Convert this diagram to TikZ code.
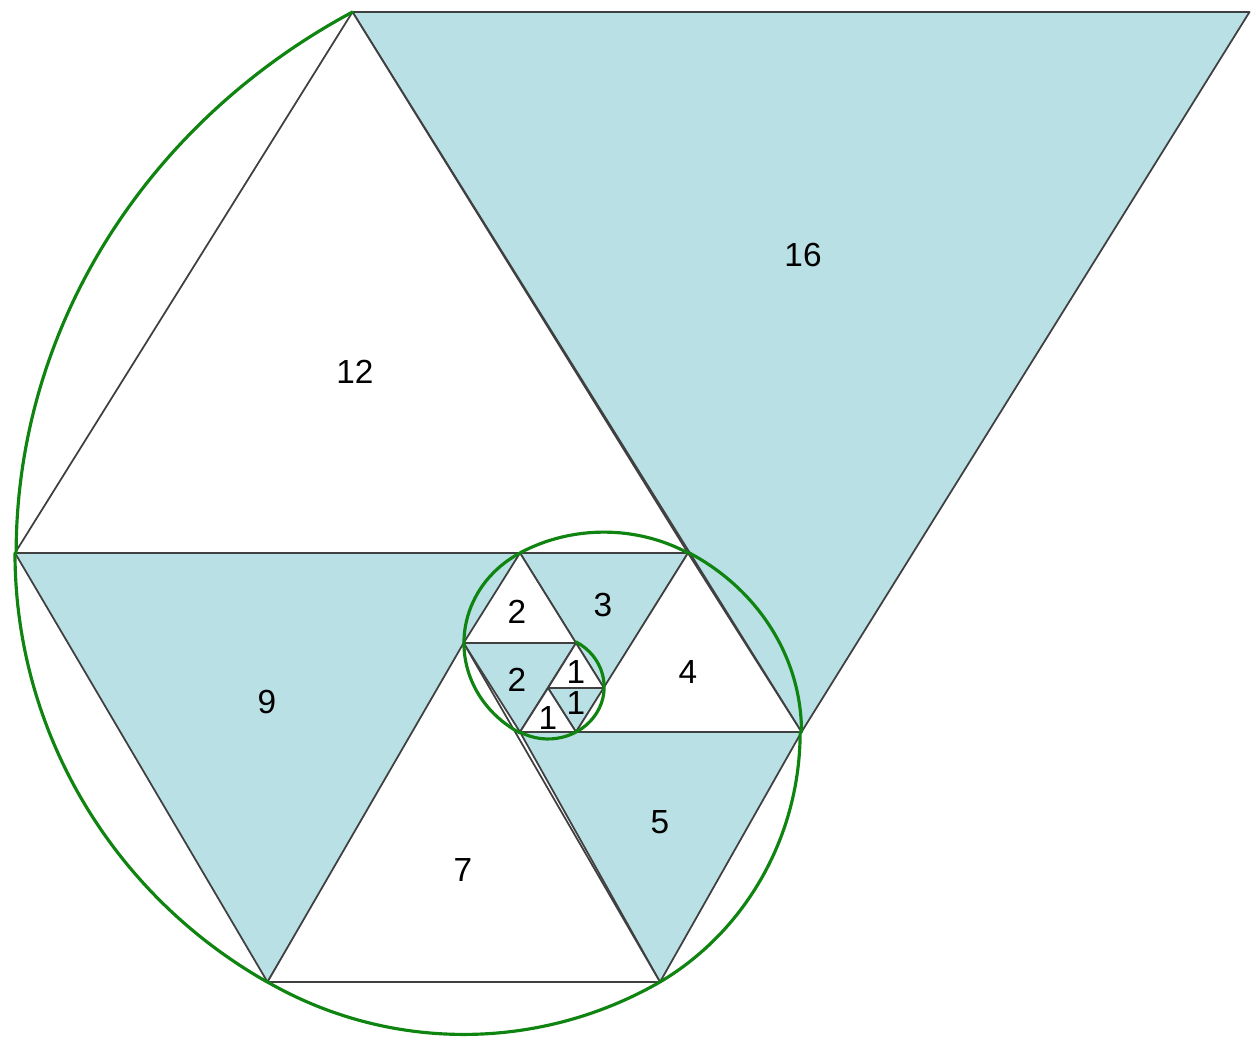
\documentclass[tikz,border=0pt]{standalone}
\usepackage{fontspec}
\setmainfont{Liberation Sans}
\usepackage{xcolor}
\usetikzlibrary{positioning}
\definecolor{padblue}{RGB}{185,224,228}
\definecolor{padgreen}{RGB}{16,132,16}
\definecolor{padedge}{RGB}{64,64,64}

\begin{document}
\begin{tikzpicture}[x=0.02cm, y=0.02cm,
    tri/.style={draw=padedge, line width=1pt, line join=round},
    downtri/.style={tri, fill=padblue},
    uptri/.style={tri, fill=white},
    spiral/.style={draw=padgreen, line width=1.8pt, line cap=round},
    num/.style={font=\fontsize{19}{21}\selectfont, inner sep=0pt}
]
\useasboundingbox (0,0) rectangle (1254,1039);

% Corner points of the triangles
\coordinate (A) at (352.5,1027);
\coordinate (B) at (1249.5,1027);
\coordinate (D) at (15,486);
\coordinate (F) at (520,486);
\coordinate (E) at (688,486);
\coordinate (K) at (463.6,396);
\coordinate (L) at (576,396);
\coordinate (N) at (548,351);
\coordinate (P) at (604,351);
\coordinate (M) at (520,307);
\coordinate (Q) at (576,307);
\coordinate (C) at (801.5,307);
\coordinate (G) at (267.5,57);
\coordinate (H) at (660,57);

% Pointing down: shaded
\draw[downtri] (A) -- (B) -- (C) -- cycle;
\draw[downtri] (D) -- (F) -- (G) -- cycle;
\draw[downtri] (M) -- (C) -- (H) -- cycle;
\draw[downtri] (F) -- (E) -- (P) -- cycle;
\draw[downtri] (K) -- (L) -- (M) -- cycle;
\draw[downtri] (N) -- (P) -- (Q) -- cycle;

% Pointing up: white
\draw[uptri] (D) -- (E) -- (A) -- cycle;
\draw[uptri] (G) -- (H) -- (K) -- cycle;
\draw[uptri] (Q) -- (C) -- (E) -- cycle;
\draw[uptri] (K) -- (L) -- (F) -- cycle;
\draw[uptri] (N) -- (P) -- (L) -- cycle;
\draw[uptri] (M) -- (Q) -- (N) -- cycle;

% Spiral, one arc per triangle
\draw[spiral] (A) arc[start angle=120, end angle=180, x radius=672.7, y radius=624.7]
              (D) arc[start angle=180, end angle=240, x radius=504.5, y radius=495.4]
              (G) arc[start angle=240, end angle=300, x radius=392.4, y radius=391.4]
              (H) arc[start angle=-60, end angle=0, x radius=280.3, y radius=288.7]
              (C) arc[start angle=0, end angle=60, x radius=224.2, y radius=206.7]
              (E) arc[start angle=60, end angle=120, x radius=168.2, y radius=155.9]
              (F) arc[start angle=120, end angle=240, x radius=112.1, y radius=103.9]
              (M) arc[start angle=240, end angle=420, x radius=56.1, y radius=52];

% Side lengths
\node[num] (n16) at (803,784) {16};
\node[num] (n12) at (355,667) {12};
\node[num] (n9) at (267,337) {9};
\node[num] (n7) at (463,169) {7};
\node[num] (n5) at (660,217) {5};
\node[num] (n4) at (688,367) {4};
\node[num] (n3) at (603,434) {3};
\node[num] (n2a) at (517,427) {2};
\node[num] (n2b) at (517,359) {2};
\node[num] (n1a) at (576,367) {1};
\node[num] (n1b) at (576,336) {1};
\node[num] (n1c) at (548,321) {1};

\end{tikzpicture}
\end{document}
